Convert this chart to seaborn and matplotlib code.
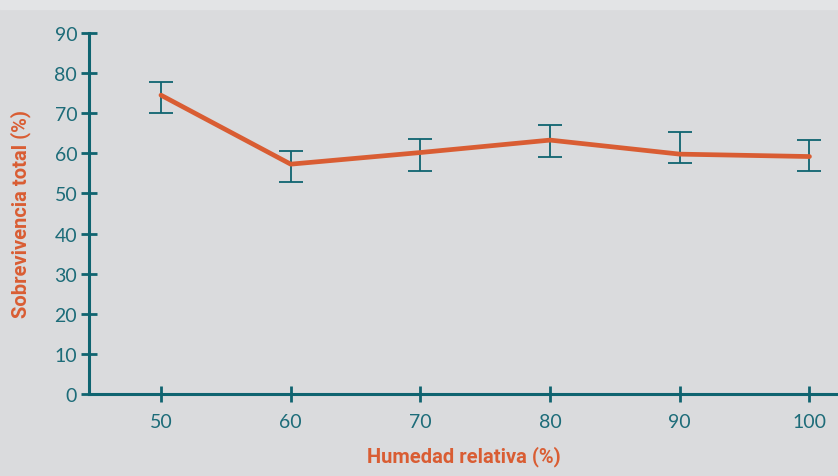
import matplotlib
matplotlib.use("Agg")
import matplotlib.pyplot as plt
import seaborn as sns
import pandas as pd

# Datos
humedad = [50, 60, 70, 80, 90, 100]
sobrevivencia = [74.5, 57.3, 60.2, 63.3, 59.8, 59.2]
err_sup = [77.9, 60.7, 63.6, 67.1, 65.4, 63.4]
err_inf = [70.1, 52.9, 55.6, 59.2, 57.6, 55.6]
yticks = [0, 10, 20, 30, 40, 50, 60, 70, 80, 90]

df = pd.DataFrame({"Humedad": humedad, "Sobrevivencia": sobrevivencia})

naranja = "#d95d33"
verde = "#0f6470"
fondo = "#dadbdd"

sns.set_style("white")
plt.rcParams["font.family"] = ["Lato", "DejaVu Sans"]

fig = plt.figure(figsize=(8.38, 4.77), dpi=100, facecolor=fondo)
# franja clara arriba
fig.patches.append(plt.Rectangle((0, 1 - 10 / 477), 1, 10 / 477, transform=fig.transFigure,
                                 color="#e3e4e6", zorder=0))
ax = fig.add_axes([89 / 838, (477 - 395) / 477, 1 - 89 / 838, (395 - 34) / 477])
ax.set_facecolor(fondo)

yerr = [[s - b for s, b in zip(sobrevivencia, err_inf)],
        [t - s for s, t in zip(sobrevivencia, err_sup)]]
ax.errorbar(humedad, sobrevivencia, yerr=yerr, fmt="none", ecolor=verde,
            elinewidth=1.3, capsize=8.5, capthick=1.3, zorder=2)
sns.lineplot(data=df, x="Humedad", y="Sobrevivencia", color=naranja, linewidth=3.4,
             ax=ax, zorder=3)

ax.set_xlim(44.45, 102.2)
ax.set_ylim(0, 90)
ax.set_xticks(humedad)
ax.set_yticks(yticks)

for s in ["top", "right"]:
    ax.spines[s].set_visible(False)
for s in ["left", "bottom"]:
    ax.spines[s].set_color(verde)
    ax.spines[s].set_linewidth(2.2)

ax.tick_params(axis="y", left=True, direction="inout", length=11, width=2, color=verde,
               labelcolor="#1d6c79", labelsize=14, pad=3)
ax.tick_params(axis="x", bottom=True, direction="inout", length=12, width=2, color=verde,
               labelcolor="#1d6c79", labelsize=14, pad=8)

ax.set_xlabel("Humedad relativa (%)", color=naranja, fontsize=14.5, fontweight="bold",
              family=["Roboto", "DejaVu Sans"], labelpad=11)
ax.set_ylabel("Sobrevivencia total (%)", color=naranja, fontsize=14.5, fontweight="bold",
              family=["Roboto", "DejaVu Sans"], labelpad=17)

fig.savefig("out.png", dpi=100, facecolor=fondo)
